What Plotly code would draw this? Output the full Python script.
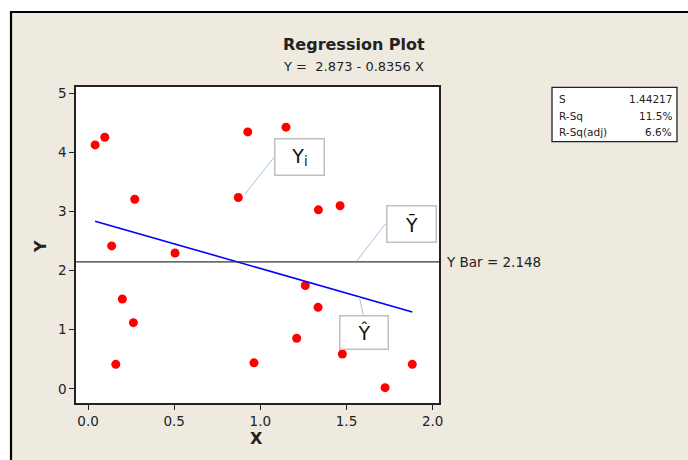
import plotly.graph_objects as go

# ---- data ----
x_vals = [0.041, 0.097, 0.137, 0.161, 0.199, 0.263, 0.271, 0.505, 0.872, 0.927,
          0.963, 1.149, 1.211, 1.261, 1.335, 1.337, 1.463, 1.476, 1.724, 1.882]
y_vals = [4.13, 4.26, 2.42, 0.415, 1.52, 1.12, 3.21, 2.30, 3.24, 4.35,
          0.44, 4.43, 0.856, 1.75, 1.38, 3.03, 3.10, 0.59, 0.02, 0.415]
intercept = 2.873
slope = -0.8356
y_bar = 2.148
stat_names = ["S", "R-Sq", "R-Sq(adj)"]
stat_values = ["1.44217", "11.5%", "6.6%"]
x_ticks = [0.0, 0.5, 1.0, 1.5, 2.0]
y_ticks = [0, 1, 2, 3, 4, 5]

# ---- geometry (pixels) ----
W_FIG, H_FIG = 688, 460
L, R, T, B = 76, 439, 87, 403
PW, PH = R - L, B - T
XR = [-0.07, 2.037]
YR = [-0.24, 5.11]

def px(x):
    return (x - L) / PW

def py(y):
    return (B - y) / PH

FONT = "DejaVu Sans"
DARK = "#222222"
CALLOUT = "#9cc3e6"

fig = go.Figure()

fig.add_trace(go.Scatter(
    x=x_vals, y=y_vals, mode="markers",
    marker=dict(color="#ff0000", size=9, line=dict(width=0)),
    showlegend=False, hoverinfo="skip"))

x_line = [min(x_vals), max(x_vals)]
fig.add_trace(go.Scatter(
    x=x_line, y=[intercept + slope * v for v in x_line], mode="lines",
    line=dict(color="#0000ff", width=1.6),
    showlegend=False, hoverinfo="skip"))

shapes = [
    # white strip above frame
    dict(type="rect", xref="paper", yref="paper", x0=px(-5), x1=px(700),
         y0=py(12), y1=py(-5), fillcolor="white", line=dict(width=0), layer="above"),
    # white strip left of frame
    dict(type="rect", xref="paper", yref="paper", x0=px(-5), x1=px(10),
         y0=py(470), y1=py(-5), fillcolor="white", line=dict(width=0), layer="above"),
    # frame lines
    dict(type="line", xref="paper", yref="paper", x0=px(10), x1=px(700),
         y0=py(12), y1=py(12), line=dict(color="black", width=2.2)),
    dict(type="line", xref="paper", yref="paper", x0=px(11), x1=px(11),
         y0=py(12), y1=py(470), line=dict(color="black", width=2.2)),
    # Y bar line
    dict(type="line", xref="x domain", yref="y", x0=0, x1=1, y0=y_bar, y1=y_bar,
         line=dict(color="#333333", width=1.3)),
    # stats box
    dict(type="rect", xref="paper", yref="paper", x0=px(552), x1=px(677),
         y0=py(141.7), y1=py(87.3), fillcolor="white", line=dict(color=DARK, width=1.3)),
    # callout connectors
    dict(type="line", xref="paper", yref="paper", x0=px(274), y0=py(157.3),
         x1=px(245), y1=py(194), line=dict(color=CALLOUT, width=1)),
    dict(type="line", xref="paper", yref="paper", x0=px(385.3), y0=py(224),
         x1=px(356.7), y1=py(261), line=dict(color=CALLOUT, width=1)),
    dict(type="line", xref="paper", yref="paper", x0=px(363.3), y0=py(315),
         x1=px(359.3), y1=py(297), line=dict(color=CALLOUT, width=1)),
]

def centred(**kw):
    d = dict(xanchor="center", yanchor="middle", showarrow=False)
    d.update(kw)
    return d

annotations = [
    centred(text="<b>Regression Plot</b>", xref="paper", yref="paper", x=px(354), y=py(45),
            font=dict(family=FONT, size=16, color=DARK)),
    centred(text="Y =\u00a0\u00a02.873 - 0.8356 X", xref="paper", yref="paper", x=px(353), y=py(66),
            font=dict(family=FONT, size=13, color=DARK)),
    centred(text="Y Bar = 2.148", xref="paper", yref="y", x=px(444), y=y_bar, xanchor="left",
            font=dict(family=FONT, size=13.5, color=DARK)),
    centred(text="<b>X</b>", xref="paper", yref="paper", x=px(256), y=py(438),
            font=dict(family=FONT, size=16, color=DARK)),
    centred(text="<b>Y</b>", xref="paper", yref="paper", x=px(40), y=py(247), textangle=-90,
            font=dict(family=FONT, size=16, color=DARK)),
]

# callout boxes
for txt, cx, cy, w, h in [
    ("Y<sub>i</sub>", 299.8, 156.8, 48, 35),
    ("\u0232", 411.0, 223.9, 48, 35),
    ("\u0176", 364.0, 332.5, 47, 32),
]:
    annotations.append(centred(
        text=txt, xref="paper", yref="paper", x=px(cx), y=py(cy),
        width=w, height=h, bgcolor="white", bordercolor="#c0c0c0", borderwidth=1.5,
        borderpad=0, font=dict(family=FONT, size=19, color="#111111")))

# stats text
for i, (nm, val) in enumerate(zip(stat_names, stat_values)):
    yy = [99, 115.7, 132.3][i]
    annotations.append(centred(text=nm, xref="paper", yref="paper", x=px(556.5), y=py(yy),
                               xanchor="left",
                               font=dict(family=FONT, size=10.5, color=DARK)))
    annotations.append(centred(text=val, xref="paper", yref="paper", x=px(673.5), y=py(yy),
                               xanchor="right",
                               font=dict(family=FONT, size=10.5, color=DARK)))

axis_common = dict(showgrid=False, zeroline=False, showline=True, mirror=True,
                   linecolor=DARK, linewidth=1.6, ticks="outside", ticklen=5,
                   tickwidth=1.3, tickcolor=DARK,
                   tickfont=dict(family=FONT, size=13.5, color=DARK))

fig.update_layout(
    width=W_FIG, height=H_FIG,
    margin=dict(l=L, r=W_FIG - R, t=T, b=H_FIG - B, pad=0),
    paper_bgcolor="#eeeae0", plot_bgcolor="white",
    xaxis=dict(range=XR, tickvals=x_ticks, tickformat=".1f", **axis_common),
    yaxis=dict(range=YR, tickvals=y_ticks, **axis_common),
    shapes=shapes, annotations=annotations, showlegend=False,
)

fig.write_html("out.html",
               config={"displayModeBar": False},
               post_script="document.body.style.margin='0px';"
                           "document.body.style.overflow='hidden';")
